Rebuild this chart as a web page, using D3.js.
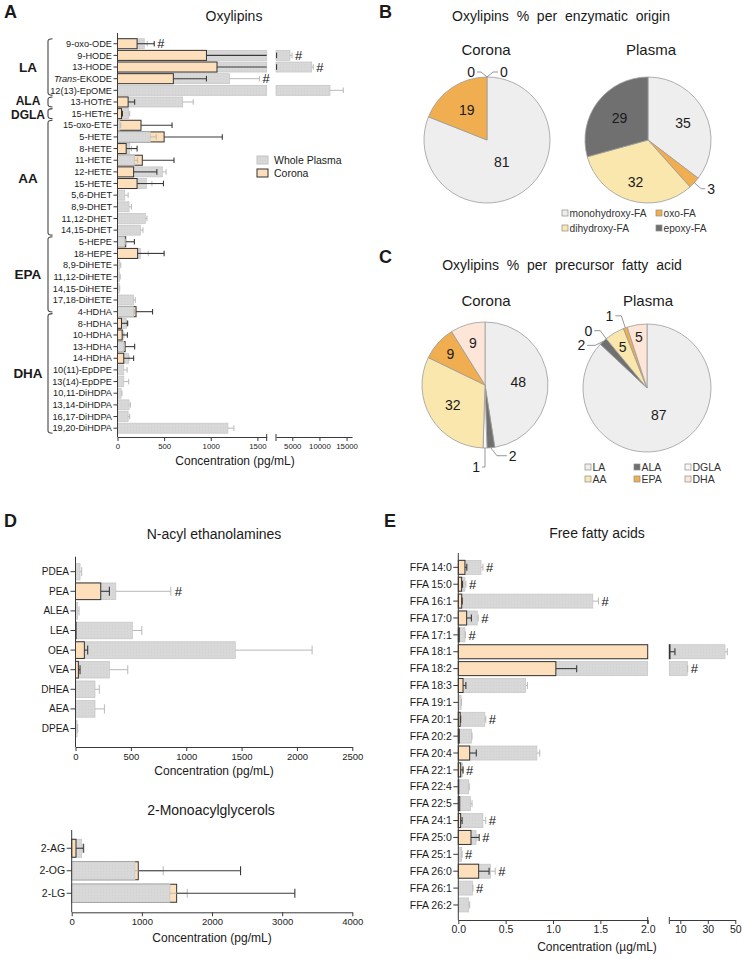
<!DOCTYPE html>
<html><head><meta charset="utf-8">
<script src="https://cdn.jsdelivr.net/npm/d3@7"></script>
<style>body{margin:0;background:#fff} svg{display:block}</style>
</head><body><svg id="c" width="745" height="959"></svg>
<script>
// ---------- DATA ----------
const A_cats = ["9-oxo-ODE","9-HODE","13-HODE","Trans-EKODE","12(13)-EpOME","13-HOTrE","15-HETrE","15-oxo-ETE","5-HETE","8-HETE","11-HETE","12-HETE","15-HETE","5,6-DHET","8,9-DHET","11,12-DHET","14,15-DHET","5-HEPE","18-HEPE","8,9-DiHETE","11,12-DiHETE","14,15-DiHETE","17,18-DiHETE","4-HDHA","8-HDHA","10-HDHA","13-HDHA","14-HDHA","10(11)-EpDPE","13(14)-EpDPE","10,11-DiHDPA","13,14-DiHDPA","16,17-DiHDPA","19,20-DiHDPA"];
const A_plasma   = [287,4579,8576,1202,11946,699,120,25,351,131,184,482,309,78,124,298,245,74,245,24,21,18,173,173,96,61,67,117,67,67,39,124,114,1184];
const A_plasmaSd = [32,370,300,320,2450,113,11,10,64,18,32,39,60,36,25,18,28,11,85,11,8,6,18,8,18,9,10,7,36,53,9,14,17,64];
const A_corona   = [210,954,1067,599,0,114,43,252,500,93,266,173,210,0,0,0,0,88,216,0,0,0,0,199,43,50,82,67,0,0,0,0,0,0];
const A_coronaSd = [184,1146,1033,355,0,70,10,333,624,117,340,249,283,0,0,0,0,93,284,0,0,0,0,177,63,56,102,106,0,0,0,0,0,0];
const A_hash     = [1,1,1,1,0,0,0,0,0,0,0,0,0,0,0,0,0,0,0,0,0,0,0,0,0,0,0,0,0,0,0,0,0,0];
const A_groups   = ["LA","ALA","DGLA","AA","EPA","DHA"];
const A_groupEdges = [0,5,6,7,17,23.6,34]; // bracket edges in row units
const A_ticks1 = [0,500,1000,1500];
const A_ticks2 = [5000,10000,15000];

const D_cats = ["PDEA","PEA","ALEA","LEA","OEA","VEA","DHEA","AEA","DPEA"];
const D_plasma   = [41,364,20,514,1443,306,176,176,14];
const D_plasmaSd = [15,497,12,85,694,166,39,85,6];
const D_corona   = [0,228,0,5,80,26,0,0,0];
const D_coronaSd = [0,78,0,0,30,15,0,0,0];
const D_hash     = [0,1,0,0,0,0,0,0,0];
const D_ticks = [0,500,1000,1500,2000,2500];

const M_cats = ["2-AG","2-OG","2-LG"];
const M_plasma   = [142,902,1400];
const M_plasmaSd = [33,403,247];
const M_corona   = [61,949,1496];
const M_coronaSd = [104,1458,1685];
const M_ticks = [0,1000,2000,3000,4000];

const E_cats = ["FFA 14:0","FFA 15:0","FFA 16:1","FFA 17:0","FFA 17:1","FFA 18:1","FFA 18:2","FFA 18:3","FFA 19:1","FFA 20:1","FFA 20:2","FFA 20:4","FFA 22:1","FFA 22:4","FFA 22:5","FFA 24:1","FFA 25:0","FFA 25:1","FFA 26:0","FFA 26:1","FFA 26:2"];
const E_plasma   = [0.24,0.07,1.42,0.20,0.07,42.5,15.1,0.71,0.03,0.28,0.14,0.83,0.045,0.11,0.13,0.26,0.187,0.035,0.34,0.15,0.11];
const E_plasmaSd = [0.02,0.01,0.06,0.01,0.005,1.7,0.3,0.02,0.003,0.01,0.005,0.03,0.005,0.005,0.015,0.03,0.01,0.005,0.05,0.005,0.01];
const E_corona   = [0.07,0.035,0.036,0.088,0.01,2.5,1.03,0.05,0,0.02,0.01,0.12,0.025,0.005,0.015,0.025,0.134,0,0.215,0,0];
const E_coronaSd = [0.02,0.01,0.005,0.05,0,3.6,0.22,0.03,0,0.005,0,0.07,0.025,0,0,0.015,0.086,0,0.11,0,0];
const E_hash     = [1,1,1,1,1,0,1,0,0,1,0,0,1,0,0,1,1,1,1,1,0];
const E_ticks1 = [0,0.5,1.0,1.5,2.0];
const E_ticks2 = [10,30,50];

const B_cats   = ["monohydroxy-FA","oxo-FA","dihydroxy-FA","epoxy-FA"];
const B_corona = [81,19,0,0];
const B_plasma = [35,3,32,29];
const C_cats   = ["LA","ALA","DGLA","AA","EPA","DHA"];
const C_corona = [48,2,1,32,9,9];
const C_plasma = [87,2,0,5,1,5];

// ---------- STYLE ----------
const FONT = '"Liberation Sans", Arial, Helvetica, sans-serif';
const GRAYS = "#c4c4c4", OR = "#fde0bb", ORS = "#333333", AX = "#3a3a3a";
const ERRG = "#b8b8b8", ERRO = "#3a3a3a";
const B_colors = ["#eeeeee","#f0ae50","#f9e7ad","#707070"];
const C_colors = ["#eeeeee","#707070","#f7f7f7","#f9e7ad","#f0ae50","#fde5d7"];

const svg = d3.select("#c").attr("font-family", FONT);
const defs = svg.append("defs");
const pat = defs.append("pattern").attr("id","dots").attr("width",3).attr("height",3).attr("patternUnits","userSpaceOnUse");
pat.append("rect").attr("width",3).attr("height",3).attr("fill","#d8d8d8");
pat.append("circle").attr("cx",1.5).attr("cy",1.5).attr("r",0.5).attr("fill","#cfcfcf");

function txt(x,y,s,o={}){
  const t = svg.append("text").attr("x",x).attr("y",y).text(s)
    .attr("font-size",o.fs||12).attr("fill",o.fill||"#1a1a1a")
    .attr("text-anchor",o.anchor||"start");
  if(o.bold) t.attr("font-weight","bold");
  if(o.dy) t.attr("dy",o.dy);
  return t;
}

function makeX(segs){
  const sc = segs.map(s=>d3.scaleLinear().domain(s.d).range(s.r));
  const pos = v=>{
    if(sc.length===1 || v<=segs[0].d[1]) return sc[0](v);
    if(v<segs[1].d[0]) return sc[0](segs[0].d[1]);
    return sc[1](v);
  };
  const spans = (a,b)=>{
    if(sc.length===1) return [[sc[0](a),sc[0](b)]];
    const out=[], b1=segs[0].d[1], b2=segs[1].d[0];
    if(a<b1) out.push([sc[0](a), sc[0](Math.min(b,b1))]);
    if(b>b2) out.push([sc[1](Math.max(a,b2)), sc[1](b)]);
    return out;
  };
  return {sc,pos,spans};
}

function hbar(c){
  const g = svg.append("g");
  const y = d3.scaleBand().domain(c.cats).range(c.band).paddingInner(c.pad).paddingOuter(c.pad/2);
  const bw = y.bandwidth();
  const X = makeX(c.segs);
  const x0 = c.segs[0].r[0];
  const rows = c.cats.map((k,i)=>({k,p:c.plasma[i],ps:c.plasmaSd[i],c:c.corona[i],cs:c.coronaSd[i],h:c.hash?c.hash[i]:0}));
  g.selectAll("g.row").data(rows).join("g").attr("class","row").each(function(d){
    const sel = d3.select(this);
    const bars = [{v:d.p,t:"p"},{v:d.c,t:"c"}].filter(b=>b.v>0).sort((a,b)=>b.v-a.v);
    bars.forEach(b=>{
      X.spans(0,b.v).forEach(s=>{
        sel.append("rect").attr("x",s[0]).attr("y",y(d.k)).attr("width",Math.max(0.3,s[1]-s[0])).attr("height",bw)
          .attr("fill",b.t==="p"?"url(#dots)":OR).attr("stroke",b.t==="p"?GRAYS:ORS)
          .attr("stroke-width",b.t==="p"?0.7:1);
      });
    });
    const cy = y(d.k)+bw/2;
    [{m:d.p,s:d.ps,col:ERRG,w:1},{m:d.c,s:d.cs,col:ERRO,w:1.1}].forEach(e=>{
      if(!(e.m>0 && e.s>0)) return;
      X.spans(e.m,e.m+e.s).forEach(s=>{
        sel.append("line").attr("x1",s[0]).attr("x2",s[1]).attr("y1",cy).attr("y2",cy).attr("stroke",e.col).attr("stroke-width",e.w);
      });
      const xe = X.pos(e.m+e.s);
      sel.append("line").attr("x1",xe).attr("x2",xe).attr("y1",cy-c.cap).attr("y2",cy+c.cap).attr("stroke",e.col).attr("stroke-width",e.w);
    });
    if(d.h){
      const xe = Math.max(X.pos(d.p+d.ps), X.pos(d.c+d.cs));
      sel.append("text").attr("x",xe+c.hashGap).attr("y",cy).attr("dy","0.36em").attr("font-size",c.hashFs).attr("fill","#111").text("#");
    }
  });
  c.segs.forEach(s=>{
    const sc = d3.scaleLinear().domain(s.d).range(s.r);
    const ax = g.append("g").attr("transform",`translate(0,${c.axisY})`)
      .call(d3.axisBottom(sc).tickValues(s.ticks).tickSize(4).tickSizeOuter(0).tickPadding(2).tickFormat(s.fmt||d3.format("")));
    ax.attr("font-family",FONT);
    ax.select(".domain").attr("stroke",AX);
    ax.selectAll(".tick line").attr("stroke",AX);
    ax.selectAll(".tick text").attr("font-size",c.tickFs).attr("fill","#222");
  });
  if(c.segs.length>1){
    [c.segs[0].r[1], c.segs[1].r[0]].forEach(xb=>{
      g.append("line").attr("x1",xb).attr("x2",xb).attr("y1",c.axisY-3).attr("y2",c.axisY+4).attr("stroke",AX);
    });
  }
  g.append("line").attr("x1",x0).attr("x2",x0).attr("y1",c.yTop).attr("y2",c.axisY).attr("stroke",AX);
  const yt = g.selectAll("g.yt").data(c.cats).join("g").attr("class","yt");
  yt.append("line").attr("x1",x0-c.ytick).attr("x2",x0).attr("y1",d=>y(d)+bw/2).attr("y2",d=>y(d)+bw/2).attr("stroke",AX);
  yt.append("text").attr("x",x0-c.ytick-1.5).attr("y",d=>y(d)+bw/2).attr("dy","0.35em").attr("text-anchor","end")
    .attr("font-size",c.labFs).attr("fill","#1a1a1a")
    .each(function(d){
      const t = d3.select(this);
      if(d.startsWith("Trans-")){ t.append("tspan").attr("font-style","italic").text("Trans"); t.append("tspan").text(d.slice(5)); }
      else t.text(d);
    });
  return {y,bw};
}

// ---------- PANEL A ----------
txt(4,18,"A",{fs:18,bold:true});
txt(234,21,"Oxylipins",{fs:14,anchor:"middle"});
hbar({cats:A_cats,plasma:A_plasma,plasmaSd:A_plasmaSd,corona:A_corona,coronaSd:A_coronaSd,hash:A_hash,
  band:[37.9,434],pad:0.14,
  segs:[{d:[0,1600],r:[117.5,266.7],ticks:A_ticks1},{d:[2000,16000],r:[276,352],ticks:A_ticks2}],
  axisY:437,yTop:33,cap:2.8,hashGap:3,hashFs:13,tickFs:7.8,labFs:9.2,ytick:4});
txt(235,465,"Concentration (pg/mL)",{fs:12,anchor:"middle"});
const stepA = (434-37.9)/A_cats.length;
const grpShift = {ALA:-1.3, DGLA:1.3};
A_groups.forEach((gname,i)=>{
  const t = 37.9 + A_groupEdges[i]*stepA + 0.8, b = 37.9 + A_groupEdges[i+1]*stepA - 0.8;
  const bx = 48, hk = 4.5;
  svg.append("path").attr("d",`M${bx+hk},${t} Q${bx},${t} ${bx},${t+2.5} L${bx},${b-2.5} Q${bx},${b} ${bx+hk},${b}`)
    .attr("fill","none").attr("stroke","#444").attr("stroke-width",1.1);
  const small = (gname==="ALA"||gname==="DGLA");
  txt(28,(t+b)/2+(grpShift[gname]||0),gname,{fs:small?12:13.5,bold:true,anchor:"middle",dy:"0.36em"});
});
[["Whole Plasma","url(#dots)",GRAYS,160],["Corona",OR,ORS,173]].forEach(l=>{
  svg.append("rect").attr("x",257).attr("y",l[3]-4).attr("width",11).attr("height",8).attr("fill",l[1]).attr("stroke",l[2]);
  txt(274,l[3],l[0],{fs:10.5,dy:"0.36em"});
});

// ---------- PANELS B, C (pies) ----------
function drawPie(o){
  const g = svg.append("g").attr("transform",`translate(${o.cx},${o.cy})`);
  const arcs = d3.pie().sort(null).value(d=>d)(o.values);
  const arc = d3.arc().innerRadius(0).outerRadius(o.r);
  g.selectAll("path").data(arcs.filter(a=>a.data>0)).join("path").attr("d",arc)
    .attr("fill",a=>o.colors[a.index]).attr("stroke","#9c9c9c").attr("stroke-width",0.8);
  arcs.forEach((a,i)=>{
    const mid = (a.startAngle+a.endAngle)/2;
    const L = o.leaders.find(l=>l.i===i);
    if(L){
      const ex = o.r*Math.sin(mid), ey = -o.r*Math.cos(mid);
      const bx = ex+L.dx, by = ey+L.dy, hx = bx+L.h;
      g.append("polyline").attr("points",`${ex},${ey} ${bx},${by} ${hx},${by}`).attr("fill","none").attr("stroke","#8a8a8a").attr("stroke-width",0.9);
      g.append("text").attr("x",hx+(L.h>=0?2:-2)).attr("y",by).attr("dy","0.36em").attr("text-anchor",L.h>=0?"start":"end")
        .attr("font-size",o.fs).attr("fill","#1a1a1a").text(o.values[i]);
    } else if(o.labelR[i]>0){
      const R = o.labelR[i]*o.r;
      g.append("text").attr("x",R*Math.sin(mid)).attr("y",-R*Math.cos(mid)).attr("dy","0.36em").attr("text-anchor","middle")
        .attr("font-size",o.fs).attr("fill","#1a1a1a").text(o.values[i]);
    }
  });
}
function legend(items,colors,cols,rows,fs){
  items.forEach((n,i)=>{
    const x = cols[i%cols.length], y = rows[Math.floor(i/cols.length)];
    svg.append("rect").attr("x",x).attr("y",y-3).attr("width",6).attr("height",6).attr("fill",colors[i]).attr("stroke","#8c8c8c").attr("stroke-width",0.7);
    txt(x+7.5,y,n,{fs:fs,dy:"0.36em",fill:"#333"});
  });
}
txt(379,18,"B",{fs:18,bold:true});
txt(561,21,"Oxylipins  %  per  enzymatic  origin",{fs:14,anchor:"middle"}).style("white-space","pre");
txt(486,55,"Corona",{fs:15,anchor:"middle"});
txt(651,55,"Plasma",{fs:15,anchor:"middle"});
drawPie({cx:487,cy:140,r:63,values:B_corona,colors:B_colors,fs:14,labelR:[0.42,0.57,0,0],
  leaders:[{i:2,dx:-6,dy:-5,h:-4},{i:3,dx:6,dy:-5,h:5}]});
drawPie({cx:648,cy:140,r:63,values:B_plasma,colors:B_colors,fs:14,labelR:[0.62,0,0.7,0.57],
  leaders:[{i:1,dx:7,dy:6,h:4}]});
legend(B_cats,B_colors,[562,656],[213,228],10.2);

txt(379,263,"C",{fs:18,bold:true});
txt(562,270,"Oxylipins  %  per  precursor  fatty  acid",{fs:14,anchor:"middle"}).style("white-space","pre");
txt(486,306,"Corona",{fs:15,anchor:"middle"});
txt(648,306,"Plasma",{fs:15,anchor:"middle"});
drawPie({cx:485,cy:385,r:63,values:C_corona,colors:C_colors,fs:14,labelR:[0.53,0,0,0.6,0.74,0.69],
  leaders:[{i:1,dx:6,dy:8,h:10},{i:2,dx:0,dy:19,h:-3}]});
drawPie({cx:647,cy:388,r:64,values:C_plasma,colors:C_colors,fs:14,labelR:[0.46,0,0,0.75,0,0.8],
  leaders:[{i:1,dx:-8,dy:4,h:-8},{i:2,dx:-6,dy:-8,h:-6},{i:4,dx:-4,dy:-12,h:-6}]});
legend(C_cats,C_colors,[585,634,685],[467,479],10.5);

// ---------- PANEL D ----------
txt(4,527,"D",{fs:18,bold:true});
txt(214,539,"N-acyl ethanolamines",{fs:14,anchor:"middle"});
hbar({cats:D_cats,plasma:D_plasma,plasmaSd:D_plasmaSd,corona:D_corona,coronaSd:D_coronaSd,hash:D_hash,
  band:[561.9,738.3],pad:0.15,
  segs:[{d:[0,2500],r:[75.5,352.3],ticks:D_ticks}],
  axisY:747,yTop:556.7,cap:4.5,hashGap:4,hashFs:13,tickFs:9.5,labFs:10,ytick:5});
txt(214,775,"Concentration (pg/mL)",{fs:12,anchor:"middle"});

txt(211,815,"2-Monoacylglycerols",{fs:14,anchor:"middle"});
hbar({cats:M_cats,plasma:M_plasma,plasmaSd:M_plasmaSd,corona:M_corona,coronaSd:M_coronaSd,hash:null,
  band:[837,904.5],pad:0.2,
  segs:[{d:[0,4000],r:[71.7,352.3],ticks:M_ticks}],
  axisY:912.3,yTop:830,cap:4.5,hashGap:4,hashFs:13,tickFs:9.5,labFs:10.5,ytick:5});
txt(212,942,"Concentration (pg/mL)",{fs:12,anchor:"middle"});

// ---------- PANEL E ----------
txt(384,527,"E",{fs:18,bold:true});
txt(597,538,"Free fatty acids",{fs:14,anchor:"middle"});
hbar({cats:E_cats,plasma:E_plasma,plasmaSd:E_plasmaSd,corona:E_corona,coronaSd:E_coronaSd,hash:E_hash,
  band:[558.9,913.4],pad:0.17,
  segs:[{d:[0,2],r:[458.3,647.7],ticks:E_ticks1,fmt:d3.format(".1f")},{d:[2,50],r:[669.3,735.3],ticks:E_ticks2}],
  axisY:920,yTop:553,cap:3.5,hashGap:3,hashFs:13,tickFs:10.5,labFs:10.5,ytick:5});
txt(597,951,"Concentration (\u00b5g/mL)",{fs:12,anchor:"middle"});
</script></body></html>
